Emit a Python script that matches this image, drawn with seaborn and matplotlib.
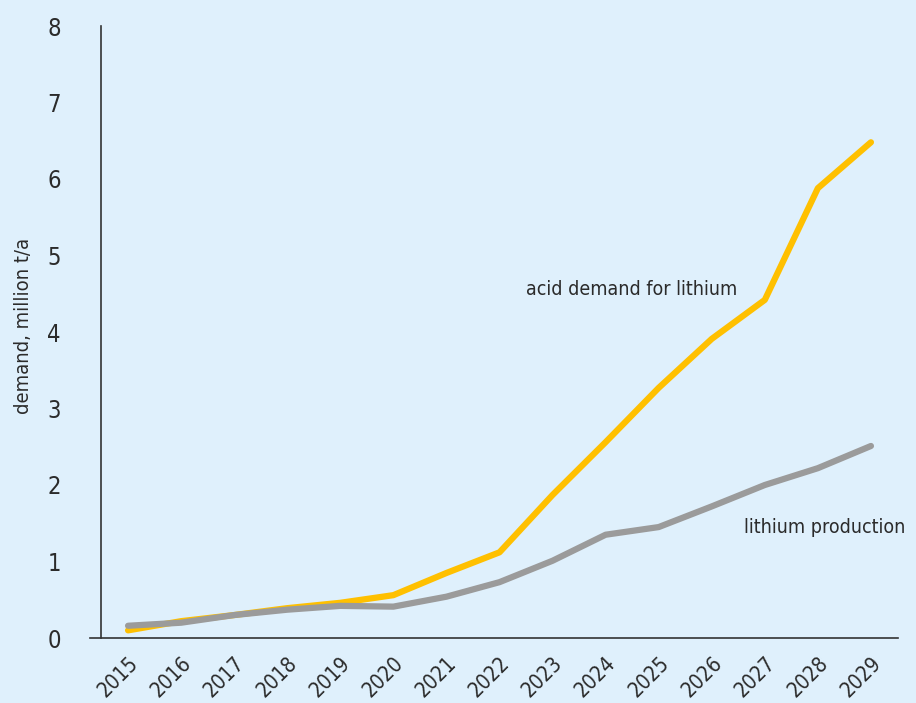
import matplotlib
matplotlib.use("Agg")
import matplotlib.pyplot as plt
import matplotlib.transforms as mtransforms
import seaborn as sns
import pandas as pd

years = [2015, 2016, 2017, 2018, 2019, 2020, 2021, 2022, 2023, 2024, 2025, 2026, 2027, 2028, 2029]
acid_demand = [0.10, 0.22, 0.30, 0.39, 0.46, 0.56, 0.85, 1.12, 1.87, 2.56, 3.27, 3.91, 4.42, 5.88, 6.48]
lithium_production = [0.16, 0.20, 0.30, 0.37, 0.42, 0.41, 0.54, 0.73, 1.01, 1.35, 1.45, 1.72, 2.00, 2.22, 2.51]
y_ticks = [0, 1, 2, 3, 4, 5, 6, 7, 8]

bg = "#dff0fc"
yellow = "#ffc000"
grey = "#9b9b9b"
text_col = "#2b2b2b"

sns.set_style("white")
plt.rcParams["font.family"] = ["DejaVu Sans"]
plt.rcParams["font.stretch"] = "condensed"

df = pd.DataFrame({
    "year": years * 2,
    "value": acid_demand + lithium_production,
    "series": ["acid demand for lithium"] * len(years) + ["lithium production"] * len(years),
})

fig = plt.figure(figsize=(9.16, 7.03), dpi=100, facecolor=bg)
ax = fig.add_axes([101 / 916, 65 / 703, 797 / 916, 612 / 703])
ax.set_facecolor(bg)

sns.lineplot(data=df, x="year", y="value", hue="series",
             palette={"acid demand for lithium": yellow, "lithium production": grey},
             hue_order=["acid demand for lithium", "lithium production"],
             linewidth=4.5, legend=False, ax=ax, solid_capstyle="round")

ax.set_xlim(2014.49, 2029.51)
ax.set_ylim(0, 8)
ax.set_xticks(years)
ax.set_xticklabels([str(y) for y in years], rotation=45, ha="right",
                   rotation_mode="anchor", fontsize=15, color=text_col)
# nudge the rotated year labels so their ends sit just right of each tick
shift = mtransforms.ScaledTranslation(13 / 100, 0, fig.dpi_scale_trans)
for lbl in ax.get_xticklabels():
    lbl.set_transform(lbl.get_transform() + shift)
ax.set_yticks(y_ticks)
ax.set_yticklabels([str(t) for t in y_ticks], fontsize=17, color=text_col)
ax.tick_params(axis="both", direction="out", length=10, width=1.5, color="#6f6f6f")
ax.tick_params(axis="x", pad=1)
ax.tick_params(axis="y", pad=19)

for s in ["top", "right"]:
    ax.spines[s].set_visible(False)
for s in ["left", "bottom"]:
    ax.spines[s].set_color("#333333")
    ax.spines[s].set_linewidth(1.2)
ax.spines["bottom"].set_bounds(2014.29, 2029.51)

ax.set_xlabel("")
ax.set_ylabel("demand, million t/a", fontsize=14.5, color=text_col)
ax.yaxis.set_label_coords(-0.085, 0.51)

ax.text(2022.5, 4.55, "acid demand for lithium", fontsize=14, color=text_col, va="center", ha="left")
ax.text(2026.6, 1.45, "lithium production", fontsize=14, color=text_col, va="center", ha="left")

fig.savefig("out.png", dpi=100, facecolor=bg)
